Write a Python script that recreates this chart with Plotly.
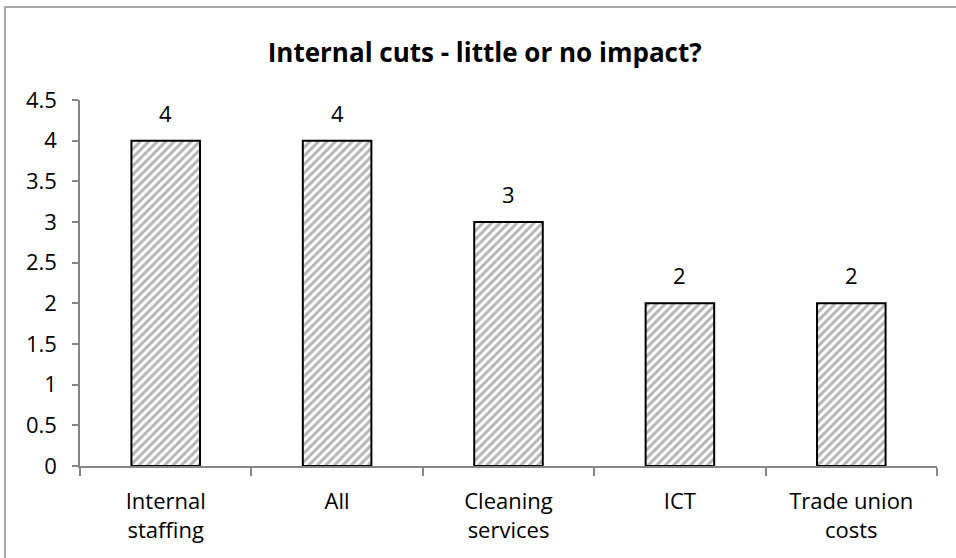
import plotly.graph_objects as go

# dữ liệu
categories = ["Internal staffing", "All", "Cleaning services", "ICT", "Trade union costs"]
tick_labels = ["Internal<br>staffing", "All", "Cleaning<br>services", "ICT", "Trade union<br>costs"]
values = [4, 4, 3, 2, 2]
y_ticks = [0, 0.5, 1, 1.5, 2, 2.5, 3, 3.5, 4, 4.5]

FONT = "'Open Sans', Lato, sans-serif"
AXIS_GRAY = "#868686"

fig = go.Figure()
fig.add_trace(go.Bar(
    x=categories,
    y=values,
    marker=dict(
        color="white",
        line=dict(color="black", width=2),
        pattern=dict(shape="/", fgcolor="#6c6c6c", bgcolor="white", size=6, solidity=0.5),
    ),
    hoverinfo="skip",
))

# nhãn số trên đầu cột
for cat, val in zip(categories, values):
    fig.add_annotation(
        x=cat, y=val, text=str(val), showarrow=False,
        yanchor="bottom", yshift=11,
        font=dict(family=FONT, size=22, color="black"),
    )

# khung viền ngoài
fig.add_shape(
    type="rect", xref="paper", yref="paper",
    x0=-0.0875, x1=1.05, y0=-0.4, y1=1.254,
    line=dict(color="#8c8c8c", width=1.5), fillcolor="rgba(0,0,0,0)",
    layer="below",
)

fig.update_layout(
    width=956, height=558,
    margin=dict(l=80, r=19, t=100, b=92),
    paper_bgcolor="white", plot_bgcolor="white",
    font=dict(family=FONT, size=22, color="black"),
    bargap=0.6,
    showlegend=False,
    title=dict(
        text="<b>Internal cuts - little or no impact?</b>",
        font=dict(family=FONT, size=26, color="black"),
        x=0.507, xref="container", xanchor="center",
        y=0.905, yref="container", yanchor="middle",
    ),
    xaxis=dict(
        tickmode="array", tickvals=categories, ticktext=tick_labels,
        showline=True, linecolor=AXIS_GRAY, linewidth=1.5,
        ticks="outside", tickson="boundaries", ticklen=8, tickcolor=AXIS_GRAY, tickwidth=1.5,
        ticklabelstandoff=15,
        showgrid=False, zeroline=False, automargin=False,
    ),
    yaxis=dict(
        range=[0, 4.5], tickmode="array", tickvals=y_ticks,
        ticktext=[f"{t:g}" for t in y_ticks],
        showline=True, linecolor=AXIS_GRAY, linewidth=1.5,
        ticks="outside", ticklen=6, tickcolor=AXIS_GRAY, tickwidth=1.5,
        ticklabelstandoff=11,
        showgrid=False, zeroline=False, automargin=False,
    ),
)

fig.write_html(
    "out.html",
    config={"displayModeBar": False},
    post_script="document.body.style.margin = '0';",
)
